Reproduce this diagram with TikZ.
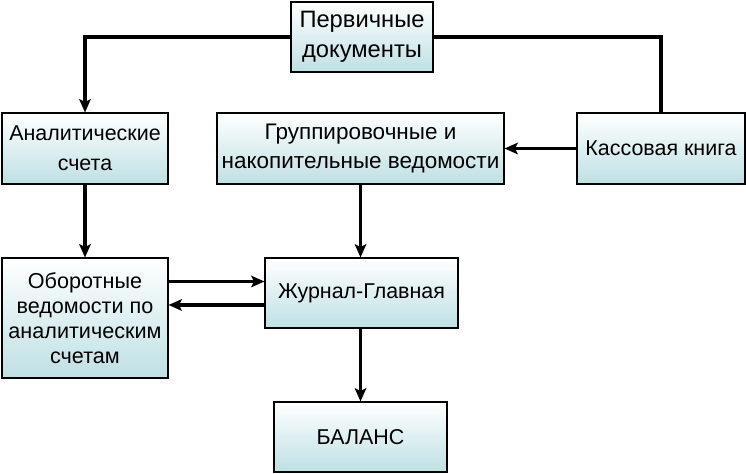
\documentclass[tikz,border=0pt]{standalone}
\usepackage{fontspec}
\setmainfont{Liberation Sans}
\usetikzlibrary{arrows.meta}
\definecolor{boxteal}{RGB}{190,224,228}
\begin{document}
\begin{tikzpicture}[
  blok/.style={draw=black, line width=0.6pt, shading=axis, top color=white, bottom color=boxteal,
    align=center, inner xsep=1pt, inner ysep=2pt, font=\fontsize{12.2}{15}\selectfont},
  arr/.style={-{Stealth[length=7.5pt,width=6.5pt,inset=1.5pt]}, line width=1.8pt}]
\useasboundingbox (0,0) rectangle (14.92,-9.48);
\node[blok, minimum width=2.84cm, minimum height=1.40cm, font=\fontsize{13.5}{17}\selectfont] (perv) at (7.24,-0.74) {Первичные\\документы};
\node[blok, minimum width=3.32cm, minimum height=1.42cm] (anal) at (1.70,-2.97) {Аналитические\\[2pt]счета};
\node[blok, minimum width=5.74cm, minimum height=1.42cm, font=\fontsize{12.8}{16.5}\selectfont] (grup) at (7.21,-2.97) {Группировочные и\\накопительные ведомости};
\node[blok, minimum width=3.36cm, minimum height=1.42cm] (kass) at (13.22,-2.97) {Кассовая книга};
\node[blok, minimum width=3.32cm, minimum height=2.40cm, font=\fontsize{12.3}{14.3}\selectfont] (obor) at (1.70,-6.36) {Оборотные\\ведомости по\\аналитическим\\счетам};
\node[blok, minimum width=3.86cm, minimum height=1.40cm] (jour) at (7.23,-5.86) {Журнал-Главная};
\node[blok, minimum width=3.46cm, minimum height=1.40cm] (bal) at (7.21,-8.74) {БАЛАНС};
% connectors
\draw[arr] (perv.west) -| (anal.north);
\draw[line width=1.8pt] (perv.east) -| (kass.north);
\draw[arr] (kass.west) -- (grup.east);
\draw[arr] (anal.south) -- (obor.north);
\draw[arr] (grup.south) -- (grup.south |- jour.north);
\coordinate (up) at ([yshift=0.23cm]jour.west);
\coordinate (dn) at ([yshift=-0.24cm]jour.west);
\draw[arr] (obor.east |- up) -- (up);
\draw[arr] (dn) -- (obor.east |- dn);
\draw[arr] (jour.south -| bal.north) -- (bal.north);
\end{tikzpicture}
\end{document}
